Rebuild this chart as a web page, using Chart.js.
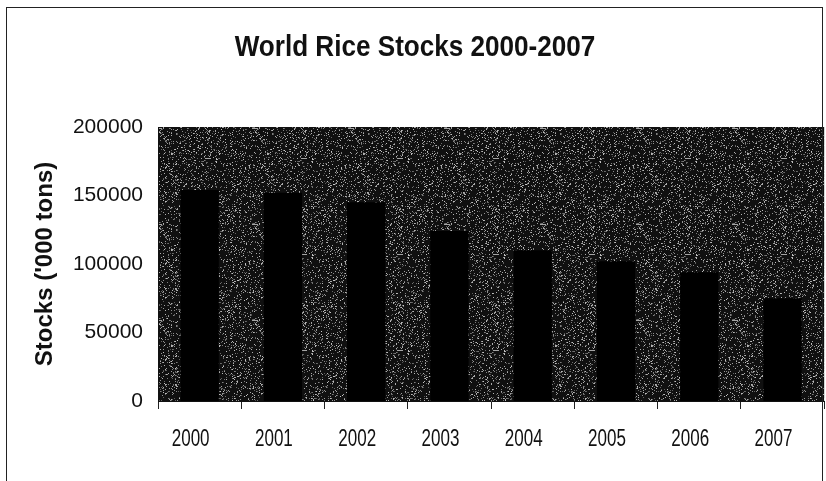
<!DOCTYPE html>
<html>
<head>
<meta charset="utf-8">
<script src="https://cdn.jsdelivr.net/npm/chart.js@4/dist/chart.umd.min.js"></script>
<style>
  html, body { margin: 0; padding: 0; background: #fff; }
  #wrap { position: relative; width: 826px; height: 481px; overflow: hidden; }
  #frame {
    position: absolute; left: 6px; top: 7px; width: 815px; height: 490px;
    border: 1.5px solid #222; pointer-events: none;
  }
</style>
</head>
<body>
<div id="wrap">
  <canvas id="riceStocks" width="826" height="481"></canvas>
  <div id="frame"></div>
</div>
<script>
var years = ['2000', '2001', '2002', '2003', '2004', '2005', '2006', '2007'];
var stocks = [154000, 152000, 145000, 124000, 110000, 102000, 94000, 75000];
var yTicks = [0, 50000, 100000, 150000, 200000];
var chartTitle = 'World Rice Stocks 2000-2007';

// speckled fill for the plot area, like a printed dot pattern
function makeSpeckle() {
  var c = document.createElement('canvas');
  c.width = 96; c.height = 96;
  var g = c.getContext('2d');
  var img = g.createImageData(96, 96);
  var seed = 12345;
  for (var i = 0; i < 96 * 96; i++) {
    seed = (seed * 1103515245 + 12345) & 0x7fffffff;
    var h = (seed >> 8) & 255;
    var v = h < 40 ? 80 + h * 3 : 16;
    img.data[i * 4] = v;
    img.data[i * 4 + 1] = v;
    img.data[i * 4 + 2] = v;
    img.data[i * 4 + 3] = 255;
  }
  g.putImageData(img, 0, 0);
  return g.createPattern(c, 'repeat');
}

// squeezed text, for the narrow face used in the title and year labels
function narrowText(ctx, text, x, y, font, squeeze) {
  ctx.save();
  ctx.font = font;
  ctx.fillStyle = '#111';
  ctx.textAlign = 'center';
  ctx.textBaseline = 'middle';
  ctx.translate(x, y);
  ctx.scale(squeeze, 1);
  ctx.fillText(text, 0, 0);
  ctx.restore();
}

var plotBg = {
  id: 'plotBg',
  beforeDraw: function(chart) {
    var a = chart.chartArea;
    var ctx = chart.ctx;
    ctx.save();
    ctx.fillStyle = makeSpeckle();
    ctx.fillRect(a.left, a.top, a.right - a.left, a.bottom - a.top);
    ctx.restore();
  },
  afterDraw: function(chart) {
    var ctx = chart.ctx;
    narrowText(ctx, chartTitle, 415, 48, "bold 29px 'Liberation Sans', Arial", 0.9);
    var xs = chart.scales.x;
    years.forEach(function(y, i) {
      narrowText(ctx, y, xs.getPixelForTick(i) - 9, 440, "23px 'Liberation Sans', Arial", 0.74);
    });
  }
};

var ctx = document.getElementById('riceStocks').getContext('2d');
var riceChart = new Chart(ctx, {
  type: 'bar',
  data: {
    labels: years,
    datasets: [{
      data: stocks,
      backgroundColor: '#000',
      borderWidth: 0,
      categoryPercentage: 1,
      barPercentage: 0.46
    }]
  },
  options: {
    responsive: false,
    animation: false,
    layout: { padding: { left: 0, right: 0, top: 127, bottom: 20 } },
    plugins: {
      legend: { display: false },
      tooltip: { enabled: false },
      title: { display: false }
    },
    scales: {
      x: {
        offset: true,
        afterFit: function(scale) { scale.height = 60; },
        grid: {
          offset: true,
          drawOnChartArea: false,
          drawTicks: true,
          tickLength: 8,
          color: '#222'
        },
        border: { display: true, color: '#111', width: 1 },
        ticks: {
          color: 'rgba(0,0,0,0)',
          padding: 19,
          maxRotation: 0,
          font: { family: "'Liberation Sans', Arial", size: 22 }
        }
      },
      y: {
        min: 0,
        max: 200000,
        afterBuildTicks: function(scale) {
          scale.ticks = yTicks.map(function(v) { return { value: v }; });
        },
        afterFit: function(scale) { scale.width = 158; },
        grid: { display: false, drawTicks: false },
        border: { display: true, color: '#111', width: 1 },
        ticks: {
          color: '#111',
          padding: 15,
          callback: function(v) { return String(v); },
          font: { family: "'Liberation Sans', Arial", size: 21 }
        },
        title: {
          display: true,
          text: "Stocks ('000 tons)",
          color: '#111',
          font: { family: "'Liberation Sans', Arial", size: 24, weight: 'bold', lineHeight: 1.2 },
          padding: { top: 31, bottom: 0 }
        }
      }
    }
  },
  plugins: [plotBg]
});
</script>
</body>
</html>
